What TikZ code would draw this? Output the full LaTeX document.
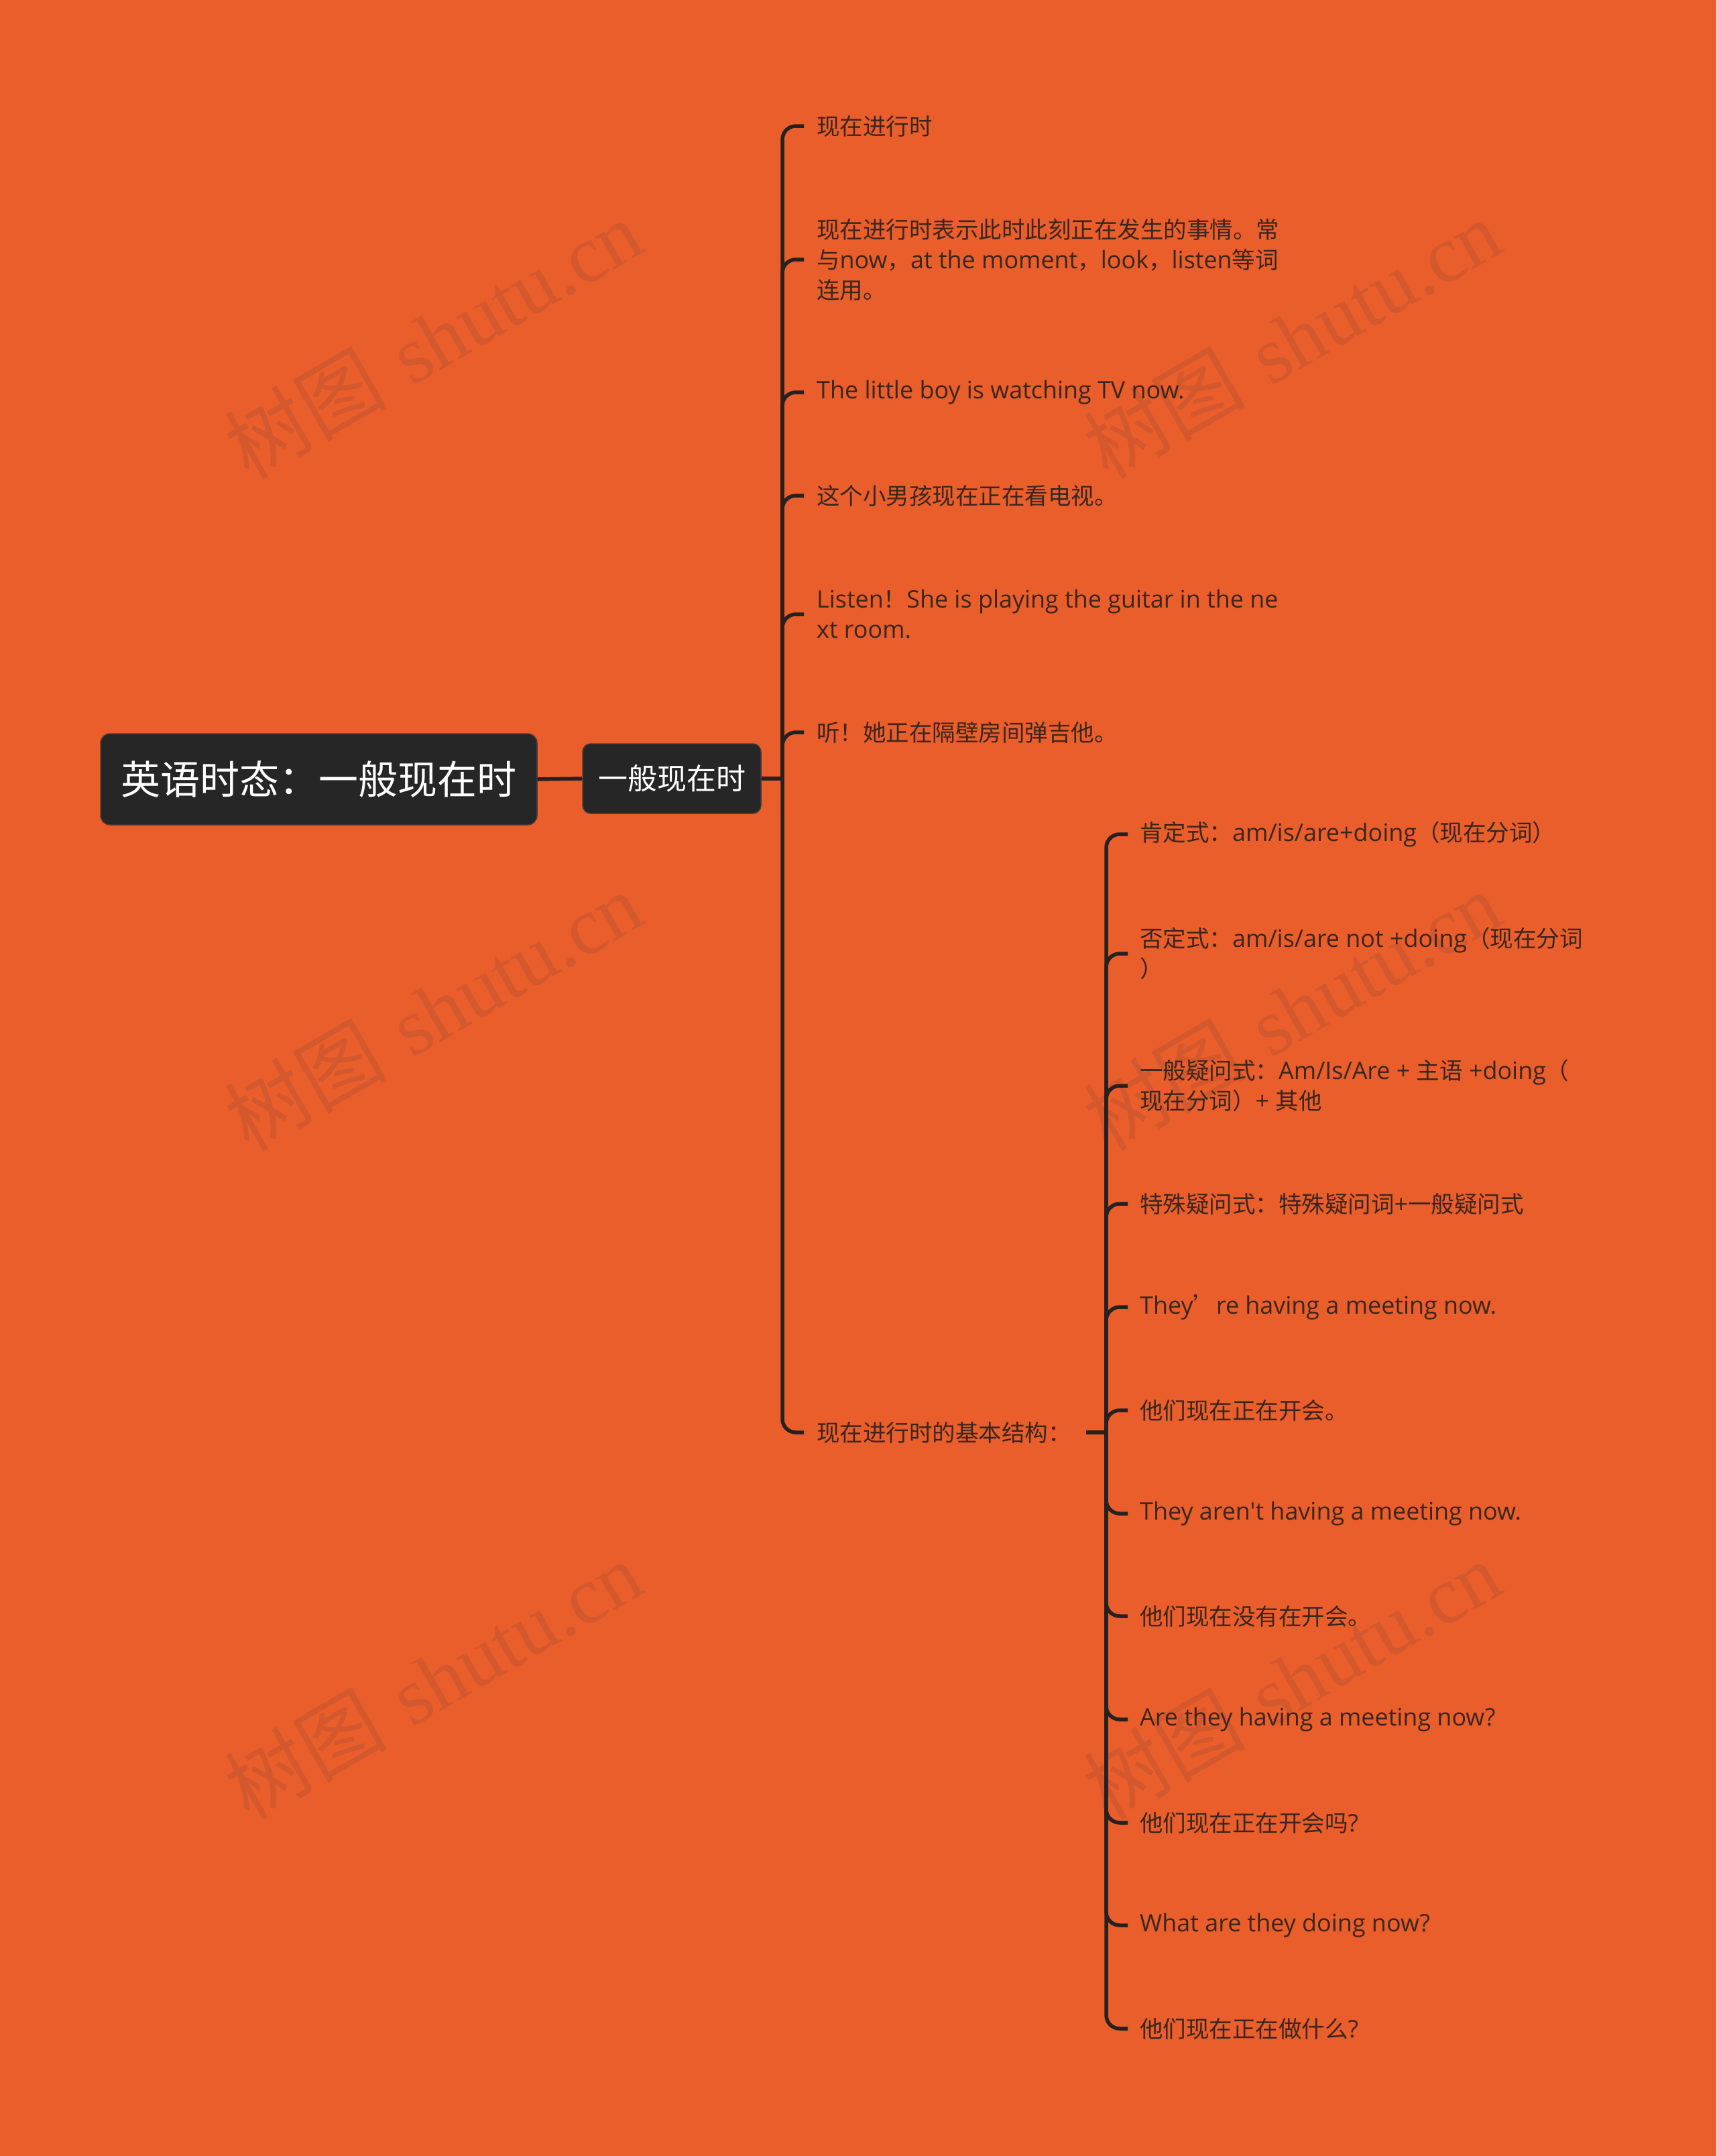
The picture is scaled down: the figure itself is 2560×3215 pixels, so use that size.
\documentclass[tikz,border=0pt]{standalone}
\usepackage{fontspec}
\setmainfont{Open Sans}[Scale=1.04]
\newfontfamily\latf{Open Sans}[Scale=1.04]
\newfontfamily\cjkf{Noto Sans CJK SC}
\newfontfamily\wmlat{Liberation Serif}
\XeTeXinterchartokenstate=1
\newXeTeXintercharclass\CJKcls
\newcount\mycnt
\mycnt="4E00
\loop \XeTeXcharclass\mycnt=\CJKcls \advance\mycnt by 1 \ifnum\mycnt<"A000 \repeat
\mycnt="3000
\loop \XeTeXcharclass\mycnt=\CJKcls \advance\mycnt by 1 \ifnum\mycnt<"3040 \repeat
\mycnt="FF00
\loop \XeTeXcharclass\mycnt=\CJKcls \advance\mycnt by 1 \ifnum\mycnt<"FFF0 \repeat
\XeTeXcharclass"2019=\CJKcls
\XeTeXinterchartoks 0 \CJKcls = {\cjkf}
\XeTeXinterchartoks 4095 \CJKcls = {\cjkf}
\XeTeXinterchartoks \CJKcls 0 = {\latf}
\XeTeXinterchartoks \CJKcls 4095 = {\latf}

\newcommand\wmmark{\XeTeXinterchartokenstate=0\relax{\cjkf 树图}\hspace{0.3em}{\wmlat shutu.cn}}

\definecolor{bgcol}{RGB}{233,94,42}
\definecolor{wmcol}{RGB}{212,88,46}
\definecolor{nodebg}{RGB}{38,38,38}
\definecolor{nodeedge}{RGB}{75,62,55}
\definecolor{linecol}{RGB}{38,32,30}
\definecolor{leaftext}{RGB}{58,38,30}

\tikzset{
  rootbox/.style={fill=nodebg, draw=nodeedge, line width=1.5pt, rounded corners=14pt,
    text=white, font=\fontsize{59}{70}\selectfont, minimum width=651pt,
    minimum height=136pt, inner sep=0pt},
  subbox/.style={fill=nodebg, draw=nodeedge, line width=1.5pt, rounded corners=12pt,
    text=white, font=\fontsize{44}{52}\selectfont, minimum width=266pt,
    minimum height=104pt, inner sep=0pt},
  leaf/.style={anchor=west, inner xsep=0pt, inner ysep=3pt, text=leaftext,
    align=left, font=\fontsize{34.5}{45}\selectfont},
  link/.style={draw=linecol, line width=5.5pt, rounded corners=20pt},
  wm/.style={text=wmcol, rotate=30, inner sep=0pt,
    font=\fontsize{121}{121}\selectfont}
}

\begin{document}
\begin{tikzpicture}[x=1pt,y=-1pt]
\fill[bgcol] (0,0) rectangle (2560,3215);
\useasboundingbox (0,0) rectangle (2560,3215);

% watermarks
\node[wm] (wm1) at (646,505) {\wmmark};
\node[wm] (wm2) at (1927,505) {\wmmark};
\node[wm] (wm3) at (646,1507) {\wmmark};
\node[wm] (wm4) at (1927,1507) {\wmmark};
\node[wm] (wm5) at (646,2505) {\wmmark};
\node[wm] (wm6) at (1927,2505) {\wmmark};

% main nodes
\node[rootbox] (root) at (475.5,1162) {英语时态：一般现在时};
\node[subbox] (sub) at (1002,1161) {一般现在时};
\draw[link] (root.east) -- (sub.west);
\coordinate (t1) at (1167,1161);
\draw[link] (sub.east) -- (t1);

% level 2 leaves
\node[leaf] (a1) at (1218,188) {现在进行时};
\node[leaf] (a2) at (1218,387) {现在进行时表示此时此刻正在发生的事情。常\\与now，at the moment，look，listen等词\\连用。};
\node[leaf] (a3) at (1218,585) {The little boy is watching TV now.};
\node[leaf] (a4) at (1218,739) {这个小男孩现在正在看电视。};
\node[leaf] (a5) at (1218,916) {Listen！She is playing the guitar in the ne\\xt room.};
\node[leaf] (a6) at (1218,1092) {听！她正在隔壁房间弹吉他。};
\node[leaf] (a7) at (1218,2136) {现在进行时的基本结构：};

\foreach \n in {a1,a2,a3,a4,a5,a6,a7}
  \draw[link] (t1) |- ([xshift=-19pt]\n.west);

% level 3
\coordinate (t2) at (1650,2136);
\draw[link] ([xshift=22pt]a7.east) -- (t2);

\node[leaf] (b1) at (1700,1244) {肯定式：am/is/are+doing（现在分词）};
\node[leaf] (b2) at (1700,1422) {否定式：am/is/are not +doing（现在分词\\）};
\node[leaf] (b3) at (1700,1619) {一般疑问式：Am/Is/Are + 主语 +doing（\\现在分词）+ 其他};
\node[leaf] (b4) at (1700,1795) {特殊疑问式：特殊疑问词+一般疑问式};
\node[leaf] (b5) at (1700,1949) {They’re having a meeting now.};
\node[leaf] (b6) at (1700,2103) {他们现在正在开会。};
\node[leaf] (b7) at (1700,2257) {\latf They aren't having a meeting now.};
\node[leaf] (b8) at (1700,2410) {他们现在没有在开会。};
\node[leaf] (b9) at (1700,2564) {Are they having a meeting now?};
\node[leaf] (b10) at (1700,2718) {他们现在正在开会吗?};
\node[leaf] (b11) at (1700,2871) {What are they doing now?};
\node[leaf] (b12) at (1700,3025) {他们现在正在做什么?};

\foreach \n in {b1,b2,b3,b4,b5,b6,b7,b8,b9,b10,b11,b12}
  \draw[link] (t2) |- ([xshift=-18pt]\n.west);
\end{tikzpicture}
\end{document}
